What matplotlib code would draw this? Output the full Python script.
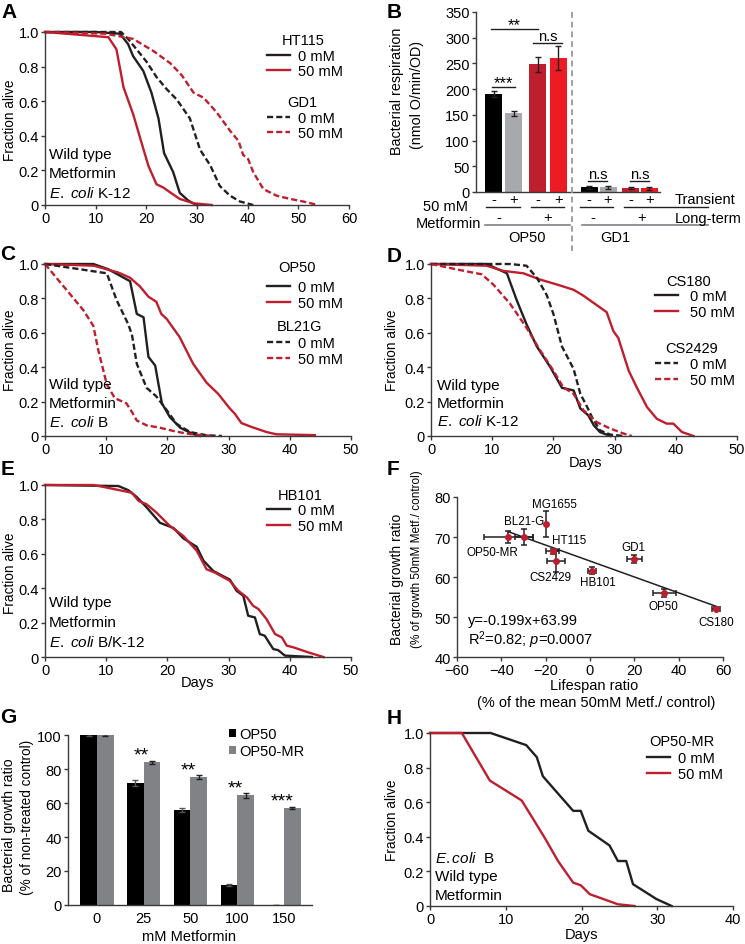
import numpy as np
import matplotlib
matplotlib.use("Agg")
import matplotlib.pyplot as plt
from matplotlib.lines import Line2D
from matplotlib.legend import Legend

plt.rcParams["font.family"] = ["Liberation Sans", "DejaVu Sans"]
plt.rcParams["mathtext.fontset"] = "custom"
plt.rcParams["mathtext.rm"] = "Liberation Sans"
plt.rcParams["mathtext.it"] = "Liberation Sans:italic"
plt.rcParams["font.size"] = 10.5

RED = "#be1e2d"
BLK = "#231f20"
AXC = "#3a3a3a"

# ---- A: HT115 / GD1 survival
a_ht0_x = [0, 10, 14.8, 16.4, 17.4, 19.4, 21.0, 22.4, 23.5, 25.3, 26.6, 28.3, 29.9]
a_ht0_y = [1.0, 1.0, 0.99, 0.93, 0.86, 0.775, 0.65, 0.50, 0.30, 0.19, 0.07, 0.025, 0.0]
a_ht50_x = [0, 12.5, 14.1, 15.5, 17.4, 18.75, 20.4, 22.0, 23.4, 24.7, 26.6, 29.3, 32.9]
a_ht50_y = [1.0, 0.97, 0.90, 0.68, 0.525, 0.39, 0.227, 0.12, 0.10, 0.073, 0.035, 0.01, 0.0]
a_gd0_x = [0, 15, 16.4, 20.0, 22.0, 24.0, 26.0, 28.6, 30.6, 32.6, 34.5, 36.5, 38.5, 41.1]
a_gd0_y = [1.0, 1.0, 0.96, 0.83, 0.74, 0.67, 0.61, 0.50, 0.32, 0.23, 0.11, 0.054, 0.02, 0.0]
a_gd50_x = [0, 12, 17.4, 21.4, 24.7, 27.0, 29.3, 31.3, 33.9, 36.5, 38.2, 39.1, 40.1, 41.1,
            43.1, 45.7, 48.4, 51.0, 53.9]
a_gd50_y = [1.0, 0.99, 0.96, 0.89, 0.82, 0.75, 0.65, 0.62, 0.535, 0.43, 0.37, 0.29, 0.265, 0.19,
            0.092, 0.054, 0.035, 0.02, 0.0]

# ---- B: respiration
b_vals = [190, 153, 248, 260, 9, 9, 8, 7.5]
b_errs = [6, 5, 14, 23, 3, 3, 2.5, 3]
b_cols = ["#000000", "#a7a9ac", "#be1e2d", "#ed1c24"] * 2
b_trans = ["-", "+", "-", "+", "-", "+", "-", "+"]
b_ticks = [0, 50, 100, 150, 200, 250, 300, 350]

# ---- C: OP50 / BL21G
c_op0_x = [0, 7.9, 10.3, 13.9, 15.0, 16.1, 16.9, 18.0, 19.1, 20.4, 22.1, 24.0, 25.3]
c_op0_y = [1.0, 1.0, 0.97, 0.90, 0.71, 0.69, 0.46, 0.41, 0.19, 0.11, 0.048, 0.014, 0.0]
c_op50_x = [0, 8, 12, 13.9, 15.5, 16.9, 18.2, 19.0, 19.9, 22.0, 24.2, 26.4, 28.3, 30.2, 31.0,
            32.1, 33.8, 36.2, 37.8, 44.1]
c_op50_y = [1.0, 0.99, 0.95, 0.92, 0.87, 0.81, 0.78, 0.71, 0.68, 0.575, 0.42, 0.31, 0.245, 0.16,
            0.13, 0.075, 0.052, 0.023, 0.01, 0.005]
c_bl0_x = [0, 10.1, 11.7, 13.6, 14.2, 15.0, 16.6, 18.2, 19.9, 21.5, 23.7, 26.4, 28.9]
c_bl0_y = [1.0, 0.946, 0.79, 0.65, 0.59, 0.42, 0.28, 0.23, 0.15, 0.07, 0.023, 0.004, 0.0]
c_bl50_x = [0, 3.5, 6.3, 7.9, 8.7, 10.1, 11.4, 13.3, 14.2, 15.0, 16.6, 18.8, 21.0, 23.1, 25.3, 27.5]
c_bl50_y = [1.0, 0.85, 0.73, 0.64, 0.50, 0.30, 0.22, 0.19, 0.14, 0.09, 0.062, 0.048, 0.029,
            0.014, 0.006, 0.0]

# ---- D: CS180 / CS2429
d_cs0_x = [0, 9.1, 12.4, 14.0, 15.6, 17.3, 19.5, 21.4, 23.3, 24.4, 25.7, 26.6, 27.6, 29.3]
d_cs0_y = [1.0, 1.0, 0.946, 0.79, 0.65, 0.52, 0.40, 0.28, 0.265, 0.16, 0.12, 0.062, 0.023, 0.0]
d_cs50_x = [0, 9.1, 11.8, 15.1, 17.8, 21.1, 23.3, 24.9, 28.7, 29.8, 30.6, 32.3, 33.6, 35.3,
            36.9, 38.5, 39.6, 41.0, 42.9]
d_cs50_y = [1.0, 0.99, 0.96, 0.946, 0.91, 0.875, 0.85, 0.816, 0.72, 0.61, 0.57, 0.38, 0.284,
            0.168, 0.10, 0.072, 0.072, 0.023, 0.0]
d_c24_0_x = [0, 12.9, 15.6, 17.3, 18.9, 20.0, 21.4, 23.3, 24.4, 25.5, 26.3, 27.6, 29.3, 31.5]
d_c24_0_y = [1.0, 1.0, 0.99, 0.92, 0.82, 0.71, 0.52, 0.39, 0.245, 0.17, 0.11, 0.033, 0.008, 0.0]
d_c24_50_x = [0, 4.7, 8.3, 10.2, 12.9, 15.6, 17.8, 20.0, 21.6, 23.3, 24.9, 27.1, 29.3, 31.5, 32.8]
d_c24_50_y = [1.0, 0.965, 0.94, 0.88, 0.77, 0.63, 0.50, 0.38, 0.284, 0.245, 0.15, 0.08, 0.043,
              0.014, 0.0]

# ---- E: HB101
e_0_x = [0, 12.0, 13.6, 15.0, 16.6, 18.8, 21.0, 22.6, 24.8, 25.9, 27.5, 29.1, 30.2, 31.3, 32.4,
         33.2, 34.3, 35.1, 35.9, 37.3, 38.1, 39.2, 43.6]
e_0_y = [1.0, 0.994, 0.97, 0.93, 0.87, 0.78, 0.75, 0.69, 0.64, 0.56, 0.50, 0.47, 0.45, 0.385,
         0.356, 0.24, 0.23, 0.133, 0.124, 0.046, 0.04, 0.008, 0.0]
e_50_x = [0, 7.9, 10.1, 14.2, 15.3, 16.6, 18.2, 20.4, 22.6, 24.8, 26.4, 27.8, 30.2, 31.6, 33.0,
          34.0, 34.9, 36.2, 37.6, 38.7, 39.5, 40.6, 43.0, 45.5]
e_50_y = [1.0, 1.0, 0.985, 0.955, 0.907, 0.888, 0.84, 0.762, 0.704, 0.617, 0.51, 0.49, 0.443,
          0.385, 0.346, 0.298, 0.278, 0.22, 0.133, 0.114, 0.066, 0.056, 0.027, 0.0]

# ---- F: growth ratio vs lifespan ratio
f_names = ["OP50-MR", "BL21-G", "MG1655", "HT115", "CS2429", "HB101", "GD1", "OP50", "CS180"]
f_x = [-36.8, -29.8, -20.0, -16.8, -15.5, 1.0, 20.0, 33.5, 56.7]
f_y = [70.0, 70.0, 73.2, 66.4, 63.9, 61.6, 64.5, 56.0, 52.1]
f_xerr = [11, 4.2, 0, 3.0, 4.0, 1.8, 3.5, 5.1, 1.8]
f_yerr = [1.4, 1.9, 3.3, 0.6, 2.7, 0.9, 0.9, 1.1, 0.4]
f_slope, f_icpt = -0.199, 63.99
f_fit_x = [-37, 57]
# label offsets (pixels, x right / y up)
f_off = [(-16, -15), (0, 16), (9, 20), (16, 11), (-5, -16), (6, -11), (-1, 12), (-1, -13), (1, -13)]

# ---- G: growth ratio bars
g_conc = ["0", "25", "50", "100", "150"]
g_op50 = [100, 72, 56, 12, 0]
g_op50_err = [0.3, 1.8, 1.3, 0.6, 0]
g_mr = [100, 84, 75.5, 64.5, 57]
g_mr_err = [0.3, 1.0, 1.2, 1.6, 0.7]
g_stars = ["", "**", "**", "**", "***"]

# ---- H: OP50-MR
h_0_x = [0, 8.0, 12.7, 14.1, 14.9, 18.9, 19.9, 20.9, 23.7, 24.8, 25.9, 26.8, 29.9, 31.9]
h_0_y = [1.0, 1.0, 0.93, 0.86, 0.75, 0.55, 0.55, 0.435, 0.35, 0.26, 0.26, 0.126, 0.04, 0.0]
h_50_x = [0, 4.2, 7.9, 12.1, 13.8, 15.2, 16.9, 18.9, 19.9, 21.1, 22.9, 24.8, 27.0]
h_50_y = [1.0, 1.0, 0.725, 0.61, 0.49, 0.39, 0.26, 0.135, 0.12, 0.068, 0.04, 0.01, 0.0]

W, H = 745, 945
fig = plt.figure(figsize=(W / 100, H / 100), dpi=100)


def box(l, t, r, b):
    return fig.add_axes([l / W, 1 - b / H, (r - l) / W, (b - t) / H])


def txt(x, y, s, **kw):
    kw.setdefault("va", "center")
    fig.text(x / W, 1 - y / H, s, **kw)


def vtxt(x, y, s, size=10):
    txt(x, y, s, rotation=90, ha="center", fontsize=size)


def fline(xs, ys, **kw):
    fig.add_artist(Line2D([x / W for x in xs], [1 - y / H for y in ys],
                          transform=fig.transFigure, **kw))


def style(ax):
    for s in ["top", "right"]:
        ax.spines[s].set_visible(False)
    for s in ["left", "bottom"]:
        ax.spines[s].set_color(AXC)
        ax.spines[s].set_linewidth(1)
    ax.tick_params(direction="out", length=3, width=1, color=AXC, pad=1.5, labelsize=10.5)


FA = [1.0, 0.8, 0.6, 0.4, 0.2, 0]
FA_LBL = ["1.0", "0.8", "0.6", "0.4", "0.2", "0"]
DASH = (0, (2.6, 1.3))


def surv(l, t, r, b, xmax):
    ax = box(l, t, r, b)
    style(ax)
    ax.set_xlim(0, xmax)
    ax.set_ylim(0, 1.0)
    ax.set_xticks(range(0, xmax + 1, 10))
    ax.set_yticks(FA, FA_LBL)
    return ax


def curve(ax, x, y, c, dashed=False):
    ln, = ax.plot(x, y, color=c, lw=1.7, ls=DASH if dashed else "-", clip_on=False)
    return ln


def legend(ax, handles, title, tx, ty, x, ymid, pad=0.5):
    txt(tx, ty, title, ha="center")
    leg = Legend(ax, handles, ["0 mM", "50 mM"], loc="center left",
                 bbox_to_anchor=(x / W, 1 - ymid / H), bbox_transform=fig.transFigure,
                 frameon=False, fontsize=10.5, handlelength=1.6, handletextpad=pad,
                 labelspacing=0.12, borderpad=0, borderaxespad=0)
    ax.add_artist(leg)


def notes(x, y0, lines, step=19, size=11):
    for i, s in enumerate(lines):
        txt(x, y0 + i * step, s, ha="left", fontsize=size)


ECOLI = r"$\mathit{E.}$ $\mathit{coli}$"

# ===== A
ax = surv(45, 33, 349, 206, 60)
l1 = curve(ax, a_ht0_x, a_ht0_y, BLK)
l2 = curve(ax, a_ht50_x, a_ht50_y, RED)
l3 = curve(ax, a_gd0_x, a_gd0_y, BLK, True)
l4 = curve(ax, a_gd50_x, a_gd50_y, RED, True)
legend(ax, [l1, l2], "HT115", 303, 41, 267, 64.5)
legend(ax, [l3, l4], "GD1", 302, 103, 267, 126.5)
notes(49, 155, ["Wild type", "Metformin", ECOLI + " K-12"])
vtxt(10, 120, "Fraction alive", 9.8)
txt(9, 13, "A", fontsize=15, fontweight="bold", ha="center")

# ===== B
ax = box(476, 13, 660, 193)
style(ax)
b_pos = [17.7, 37.7, 61.5, 82.3, 113.2, 132.0, 154.8, 173.2]
ax.bar(b_pos, b_vals, width=17, color=b_cols, yerr=b_errs, capsize=2,
       error_kw=dict(lw=1, ecolor=BLK, capthick=1))
ax.set_xlim(0, 184)
ax.set_ylim(0, 350)
ax.set_xticks([])
ax.set_yticks(b_ticks)
# significance marks
for x0, x1, yl, s, fs, dy in [(16, 39, 204, "***", 12, 0), (15, 62, 317, "**", 12, 0),
                              (57, 86, 290, "n.s", 10.5, 6), (112, 131, 21, "n.s", 10.5, 6),
                              (154, 173, 21, "n.s", 10.5, 6)]:
    ax.plot([x0, x1], [yl, yl], color=BLK, lw=1, clip_on=False)
    ax.text((x0 + x1) / 2, yl + dy, s, ha="center", va="baseline", fontsize=fs)
for p, s in zip(b_pos, b_trans):
    txt(476 + p, 200, s, ha="center")
for x0, x1 in [(486, 520), (531, 564), (580, 613), (624, 708)]:
    fline([x0, x1], [208, 208], color=BLK, lw=1)
for x, s in [(499, "-"), (548, "+"), (593, "-"), (642, "+")]:
    txt(x, 218, s, ha="center")
for x0, x1 in [(485, 570), (582, 708)]:
    fline([x0, x1], [226, 226], color="#808285", lw=1.2)
txt(468, 207, "50 mM", ha="right")
txt(481, 224, "Metformin", ha="right")
txt(675, 200, "Transient", ha="left")
txt(675, 219, "Long-term", ha="left")
txt(527, 238, "OP50", ha="center")
txt(615, 238, "GD1", ha="center")
fline([572, 572], [13, 252], color="#a0a0a0", lw=1.4, ls=(0, (3, 2)))
vtxt(397, 91, "Bacterial respiration", 10.3)
vtxt(417, 95, "(nmol O/min/OD)", 10.3)
txt(394, 12, "B", fontsize=15, fontweight="bold", ha="center")

# ===== C
ax = surv(45, 265, 351, 437, 50)
l1 = curve(ax, c_op0_x, c_op0_y, BLK)
l2 = curve(ax, c_op50_x, c_op50_y, RED)
l3 = curve(ax, c_bl0_x, c_bl0_y, BLK, True)
l4 = curve(ax, c_bl50_x, c_bl50_y, RED, True)
legend(ax, [l1, l2], "OP50", 297, 268, 267, 296)
legend(ax, [l3, l4], "BL21G", 299, 327, 267, 352)
notes(49, 385, ["Wild type", "Metformin", ECOLI + " B"])
vtxt(10, 350, "Fraction alive", 9.8)
txt(8, 255, "C", fontsize=15, fontweight="bold", ha="center")

# ===== D
ax = surv(431, 265, 737, 437, 50)
l1 = curve(ax, d_cs0_x, d_cs0_y, BLK)
l2 = curve(ax, d_cs50_x, d_cs50_y, RED)
l3 = curve(ax, d_c24_0_x, d_c24_0_y, BLK, True)
l4 = curve(ax, d_c24_50_x, d_c24_50_y, RED, True)
legend(ax, [l1, l2], "CS180", 689, 282, 655, 305, pad=0.8)
legend(ax, [l3, l4], "CS2429", 692, 349, 655, 373, pad=0.8)
notes(437, 386, ["Wild type", "Metformin", ECOLI + " K-12"], step=18)
vtxt(392, 350, "Fraction alive", 9.8)
txt(585, 463, "Days", ha="center")
txt(394, 256, "D", fontsize=15, fontweight="bold", ha="center")

# ===== E
ax = surv(45, 486, 351, 658, 50)
l1 = curve(ax, e_0_x, e_0_y, BLK)
l2 = curve(ax, e_50_x, e_50_y, RED)
legend(ax, [l1, l2], "HB101", 300, 496, 267, 519)
notes(49, 603, ["Wild type", "Metformin", ECOLI + " B/K-12"], step=20)
vtxt(10, 573, "Fraction alive", 9.8)
txt(198, 683, "Days", ha="center")
txt(8, 470, "E", fontsize=15, fontweight="bold", ha="center")

# ===== F
ax = box(457, 498, 723, 658)
style(ax)
ax.set_xlim(-60, 60)
ax.set_ylim(40, 80)
ax.set_xticks(range(-60, 61, 20))
ax.set_yticks(range(40, 81, 10))
fx = np.array(f_fit_x)
ax.plot(fx, f_slope * fx + f_icpt, color=BLK, lw=1.1)
ax.errorbar(f_x, f_y, xerr=f_xerr, yerr=f_yerr, fmt="o", ms=4, color=RED, ecolor=BLK,
            elinewidth=1.1, capsize=2.2, capthick=1.1, zorder=3)
for n, x, y, (dx, dy) in zip(f_names, f_x, f_y, f_off):
    ax.annotate(n, (x, y), xytext=(dx, dy), textcoords="offset pixels", ha="center",
                va="center", fontsize=8.4)
txt(468, 621, "y=-0.199x+63.99", ha="left")
txt(468, 640, r"R$^2$=0.82; $p$=0.0007", ha="left")
vtxt(397, 579, "Bacterial growth ratio", 10)
vtxt(417, 559, "(% of growth 50mM Metf./ control)", 8.5)
txt(594, 686, "Lifespan ratio", ha="center")
txt(596, 703, "(% of the mean 50mM Metf./ control)", ha="center")
txt(393, 470, "F", fontsize=15, fontweight="bold", ha="center")

# ===== G
ax = box(68, 736, 312, 906)
style(ax)
gx = np.arange(len(g_conc))
bw = 0.357
ax.bar(gx - bw / 2, g_op50, bw, color="#000000", yerr=g_op50_err, capsize=2,
       error_kw=dict(lw=1, ecolor="#555555", capthick=1), label="OP50")
ax.bar(gx + bw / 2, g_mr, bw, color="#808285", yerr=g_mr_err, capsize=2,
       error_kw=dict(lw=1, ecolor=BLK, capthick=1), label="OP50-MR")
for x, v, s in zip(gx, g_mr, g_stars):
    ax.text(x - 0.05, v + 1.5, s, ha="center", va="baseline", fontsize=14)
ax.set_xlim(-0.62, 4.6)
ax.set_ylim(0, 100)
ax.set_xticks(gx, g_conc)
ax.tick_params(axis="x", length=0, pad=4)
ax.set_yticks(range(0, 101, 20))
ax.legend(loc="upper left", bbox_to_anchor=(229 / W, 1 - 728 / H), bbox_transform=fig.transFigure,
          frameon=False, fontsize=10.5, handlelength=0.5, handleheight=0.5,
          handletextpad=0.2, labelspacing=0.2, borderpad=0, borderaxespad=0)
vtxt(9, 825, "Bacterial growth ratio", 10.2)
vtxt(27, 817, "(% of non-treated control)", 9.8)
txt(189, 937, "mM Metformin", ha="center")
txt(8, 718, "G", fontsize=15, fontweight="bold", ha="center")

# ===== H
ax = box(430, 734, 733, 907)
style(ax)
ax.set_xlim(0, 40)
ax.set_ylim(0, 1.0)
ax.set_xticks(range(0, 41, 10))
ax.set_yticks(FA, FA_LBL)
l1 = curve(ax, h_0_x, h_0_y, BLK)
l2 = curve(ax, h_50_x, h_50_y, RED)
legend(ax, [l1, l2], "OP50-MR", 682, 742, 647, 767, pad=0.55)
notes(435, 859, [r"$\mathit{E.coli}$  B", "Wild type", "Metformin"], step=18.5)
vtxt(392, 820, "Fraction alive", 9.8)
txt(581, 935, "Days", ha="center")
txt(394, 719, "H", fontsize=15, fontweight="bold", ha="center")

fig.savefig("out.png", dpi=100)
